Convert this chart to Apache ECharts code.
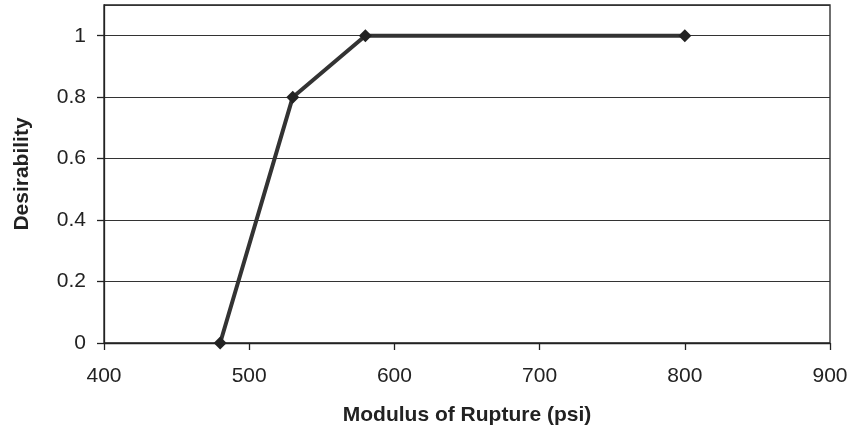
<!DOCTYPE html>
<html><head><meta charset="utf-8">
<script src="https://cdn.jsdelivr.net/npm/echarts@6/dist/echarts.min.js"></script>
<style>html,body{margin:0;padding:0;background:#fff}#c{width:852px;height:431px}</style>
</head><body><div id="c"></div>
<script>
const xValues = [480, 530, 580, 800];
const yValues = [0, 0.8, 1, 1];
const xTitle = 'Modulus of Rupture (psi)';
const yTitle = 'Desirability';

const chart = echarts.init(document.getElementById('c'));
const font = 'Liberation Sans, Arial, sans-serif';
chart.setOption({
  animation: false,
  grid: { left: 104, right: 22, top: 5, bottom: 88, show: true, borderColor: '#222', borderWidth: 1.3, backgroundColor: '#fff' },
  xAxis: {
    type: 'value', min: 400, max: 900, interval: 100,
    name: xTitle, nameLocation: 'middle', nameGap: 62,
    nameTextStyle: { fontFamily: font, fontSize: 21, fontWeight: 'bold', color: '#222' },
    axisLine: { show: true, onZero: false, lineStyle: { color: '#222', width: 1.3 } },
    axisTick: { show: true, length: 7, lineStyle: { color: '#222', width: 1.3 } },
    axisLabel: { fontFamily: font, fontSize: 21, color: '#222', margin: 23 },
    splitLine: { show: false }
  },
  yAxis: {
    type: 'value', min: 0, max: 1.1, interval: 0.2,
    name: yTitle, nameLocation: 'middle', nameGap: 71, nameRotate: 90,
    nameTextStyle: { fontFamily: font, fontSize: 21, fontWeight: 'bold', color: '#222' },
    axisLine: { show: true, lineStyle: { color: '#222', width: 1.3 } },
    axisTick: { show: true, length: 7, lineStyle: { color: '#222', width: 1.3 } },
    axisLabel: { fontFamily: font, fontSize: 21, color: '#222', margin: 18, showMaxLabel: false,
      formatter: v => v > 1.05 ? '' : String(Math.round(v * 10) / 10) },
    splitLine: { show: true, lineStyle: { color: '#333', width: 1.2 } }
  },
  series: [{
    type: 'line',
    data: xValues.map((x, i) => [x, yValues[i]]),
    symbol: 'diamond', symbolSize: 13,
    lineStyle: { color: '#333', width: 4 },
    itemStyle: { color: '#222' }
  }]
});
</script></body></html>
